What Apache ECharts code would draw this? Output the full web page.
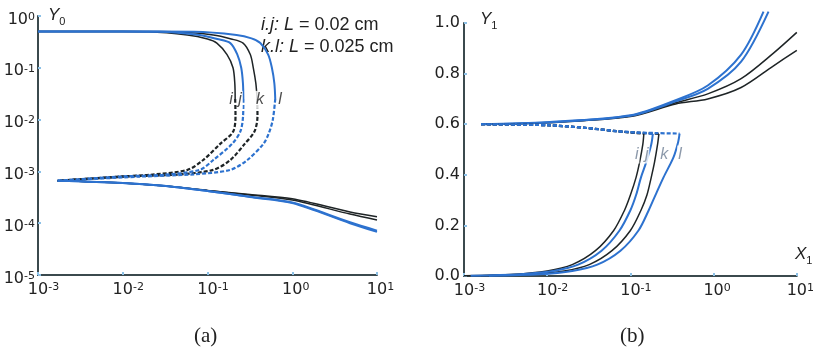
<!DOCTYPE html>
<html>
<head>
<meta charset="utf-8">
<script src="https://cdn.jsdelivr.net/npm/echarts@6/dist/echarts.min.js"></script>
<style>
html, body { margin: 0; padding: 0; background: #fff; }
#main { width: 817px; height: 353px; }
</style>
</head>
<body>
<div id="main"></div>
<script>
// panel (a): Y0 vs X, log-log
var aUpI = [[0.001,0.5],[0.01,0.5],[0.02,0.495],[0.058,0.43],[0.1,0.36],[0.129,0.3],[0.17,0.18],[0.2,0.1],[0.21,0.05],[0.212,0.025]];
var aUpJ = [[0.001,0.5],[0.01,0.5],[0.027,0.495],[0.081,0.43],[0.13,0.36],[0.186,0.3],[0.225,0.18],[0.25,0.1],[0.262,0.05],[0.265,0.025]];
var aUpK = [[0.001,0.5],[0.01,0.5],[0.04,0.495],[0.117,0.43],[0.19,0.36],[0.263,0.3],[0.32,0.18],[0.347,0.1],[0.372,0.05],[0.385,0.025]];
var aUpL = [[0.001,0.5],[0.01,0.5],[0.07,0.495],[0.22,0.43],[0.33,0.37],[0.42,0.3],[0.52,0.18],[0.575,0.1],[0.615,0.05],[0.63,0.025]];

var aDashI = [[0.212,0.025],[0.214,0.012],[0.2,0.0058],[0.141,0.0034],[0.089,0.00166],[0.058,0.00107],[0.021,0.00086],[0.01,0.0008],[0.0017,0.00066]];
var aDashJ = [[0.265,0.025],[0.263,0.012],[0.245,0.006],[0.195,0.0034],[0.117,0.00166],[0.081,0.00107],[0.03,0.00086],[0.01,0.0008],[0.0017,0.00066]];
var aDashK = [[0.385,0.025],[0.389,0.012],[0.36,0.006],[0.275,0.0034],[0.186,0.00166],[0.117,0.00107],[0.045,0.00087],[0.012,0.0008],[0.0017,0.00066]];
var aDashL = [[0.63,0.025],[0.59,0.01],[0.53,0.0055],[0.457,0.0034],[0.295,0.00166],[0.186,0.00107],[0.07,0.00088],[0.015,0.00079],[0.0017,0.00066]];

var aLowI = [[0.0017,0.00066],[0.01,0.0006],[0.03,0.00053],[0.1,0.00043],[0.316,0.00036],[1,0.000295],[4.8,0.000165],[10,0.000133]];
var aLowJ = [[0.0017,0.00066],[0.01,0.0006],[0.03,0.00053],[0.1,0.00042],[0.316,0.00032],[1,0.000245],[4.8,0.0001],[10,0.000068]];
var aLowK = [[0.0017,0.00066],[0.01,0.0006],[0.03,0.00053],[0.1,0.00043],[0.316,0.00035],[1,0.00028],[4.8,0.00015],[10,0.000115]];
var aLowL = [[0.0017,0.00066],[0.01,0.0006],[0.03,0.00053],[0.1,0.00042],[0.316,0.000325],[1,0.00025],[4.8,0.000104],[10,0.000072]];

// panel (b): Y1 vs X1, log x
var bUpI = [[0.0016,0.6],[0.01,0.607],[0.1,0.632],[0.35,0.685],[0.85,0.72],[2.14,0.78],[5.2,0.88],[10,0.963]];
var bUpJ = [[0.0016,0.6],[0.01,0.608],[0.1,0.635],[0.35,0.695],[0.85,0.753],[2.14,0.875],[3.98,1.045]];
var bUpK = [[0.0016,0.6],[0.01,0.606],[0.1,0.63],[0.35,0.68],[0.85,0.7],[2.14,0.745],[5.2,0.83],[10,0.892]];
var bUpL = [[0.0016,0.6],[0.01,0.607],[0.1,0.633],[0.35,0.69],[0.85,0.74],[2.14,0.847],[4.57,1.045]];

var bDashI = [[0.0016,0.6],[0.01,0.596],[0.03,0.585],[0.07,0.572],[0.145,0.562]];
var bDashJ = [[0.0016,0.6],[0.01,0.596],[0.03,0.585],[0.07,0.572],[0.186,0.562]];
var bDashK = [[0.0016,0.6],[0.01,0.596],[0.03,0.585],[0.07,0.572],[0.15,0.565],[0.22,0.562]];
var bDashL = [[0.0016,0.6],[0.01,0.596],[0.03,0.585],[0.07,0.572],[0.2,0.565],[0.39,0.563]];

var bLowI = [[0.145,0.562],[0.141,0.52],[0.129,0.45],[0.117,0.39],[0.1,0.32],[0.085,0.26],[0.063,0.18],[0.038,0.1],[0.02,0.045],[0.01,0.02],[0.004,0.007],[0.001,0.001]];
var bLowJ = [[0.186,0.562],[0.178,0.52],[0.155,0.45],[0.134,0.39],[0.117,0.32],[0.1,0.26],[0.074,0.18],[0.045,0.1],[0.0235,0.045],[0.0118,0.02],[0.0047,0.007],[0.0012,0.001]];
var bLowK = [[0.22,0.562],[0.212,0.52],[0.195,0.45],[0.178,0.39],[0.158,0.32],[0.134,0.26],[0.1,0.18],[0.06,0.1],[0.032,0.045],[0.016,0.02],[0.0063,0.007],[0.0016,0.001]];
var bLowL = [[0.39,0.563],[0.375,0.53],[0.33,0.47],[0.25,0.39],[0.2,0.32],[0.166,0.26],[0.125,0.18],[0.076,0.1],[0.04,0.045],[0.02,0.02],[0.008,0.007],[0.002,0.001]];

// curve labels [x, y, name]
var labelsA = [[0.189,0.024,'i'],[0.242,0.024,'j'],[0.416,0.024,'k'],[0.716,0.024,'l']];
var labelsB = [[0.119,0.48,'i'],[0.157,0.48,'j'],[0.255,0.48,'k'],[0.394,0.48,'l']];

var yTicksB = [0, 0.2, 0.4, 0.6, 0.8, 1.0];

var BLACK = '#1e2426';
var BLUE = '#2d72cf';
var AXIS = '#3b4a4e';
var FONT = 'Liberation Sans';
var TICKFONT = 'DejaVu Sans';

var chart = echarts.init(document.getElementById('main'));

function line(data, idx, color, dashed) {
  return {
    type: 'line',
    xAxisIndex: idx,
    yAxisIndex: idx,
    data: data,
    symbol: 'none',
    smooth: 0.3,
    clip: false,
    silent: true,
    lineStyle: {
      color: color,
      width: dashed ? 2.2 : (color === BLACK ? 1.5 : 2),
      type: dashed ? [4, 2] : 'solid'
    }
  };
}

function labelSeries(data, idx, color) {
  return {
    type: 'scatter',
    xAxisIndex: idx,
    yAxisIndex: idx,
    data: data,
    symbolSize: 1,
    silent: true,
    z: 10,
    itemStyle: { color: 'rgba(0,0,0,0)' },
    label: {
      show: true,
      position: 'inside',
      formatter: function (p) { return p.data[2]; },
      fontFamily: FONT,
      fontStyle: 'italic',
      fontSize: 16,
      color: color,
      backgroundColor: '#fff',
      padding: [1, 1]
    }
  };
}

// 10^n tick labels
var powRich = {
  b: { fontFamily: TICKFONT, fontSize: 16, color: '#222', lineHeight: 16, padding: [8, 0, 0, 0], verticalAlign: 'bottom' },
  s: { fontFamily: TICKFONT, fontSize: 11, color: '#222', lineHeight: 11, verticalAlign: 'top' },
  gn: { fontSize: 11, width: 11 },
  gp: { fontSize: 11, width: 7 }
};
function expOf(v) { return Math.round(Math.log(v) / Math.LN10); }
function powX(v) {
  var e = expOf(v);
  return '{' + (e < 0 ? 'gn' : 'gp') + '| }{b|10}{s|' + e + '}';
}
function powY(v) {
  return '{b|10}{s|' + expOf(v) + '}';
}

function xLog(idx) {
  return {
    type: 'log', gridIndex: idx, logBase: 10, min: 0.001, max: 10,
    axisLine: { show: true, lineStyle: { color: AXIS, width: 2 } },
    axisTick: { show: true, inside: true, length: 3, lineStyle: { color: '#8cc0e6', width: 2 } },
    minorTick: { show: false },
    splitLine: { show: false },
    axisLabel: { formatter: powX, rich: powRich, margin: 7 }
  };
}

var option = {
  animation: false,
  backgroundColor: '#fff',
  grid: [
    { left: 38, top: 16, width: 339, height: 259 },
    { left: 464, top: 23, width: 339, height: 253 }
  ],
  xAxis: [xLog(0), xLog(1)],
  yAxis: [
    {
      type: 'log', gridIndex: 0, logBase: 10, min: 0.00001, max: 1,
      axisLine: { show: true, lineStyle: { color: AXIS, width: 2 } },
      axisTick: { show: true, inside: true, length: 3, lineStyle: { color: '#8cc0e6', width: 2 } },
      splitLine: { show: false },
      axisLabel: { formatter: powY, rich: powRich, margin: 3, padding: [7, 0, 0, 0] }
    },
    {
      type: 'value', gridIndex: 1, min: yTicksB[0], max: yTicksB[yTicksB.length - 1], interval: 0.2,
      axisLine: { show: true, lineStyle: { color: AXIS, width: 2 } },
      axisTick: { show: true, inside: true, length: 3, lineStyle: { color: '#8cc0e6', width: 2 } },
      splitLine: { show: false },
      axisLabel: {
        fontFamily: TICKFONT, fontSize: 16, color: '#222', margin: 4,
        formatter: function (v) { return v.toFixed(1); }
      }
    }
  ],
  series: [
    line(aUpI, 0, BLACK), line(aUpK, 0, BLACK), line(aUpJ, 0, BLUE), line(aUpL, 0, BLUE),
    line(aDashI, 0, BLACK, true), line(aDashK, 0, BLACK, true), line(aDashJ, 0, BLUE, true), line(aDashL, 0, BLUE, true),
    line(aLowI, 0, BLACK), line(aLowK, 0, BLACK), line(aLowJ, 0, BLUE), line(aLowL, 0, BLUE),
    line(bUpI, 1, BLACK), line(bUpK, 1, BLACK), line(bUpJ, 1, BLUE), line(bUpL, 1, BLUE),
    line(bDashI, 1, BLACK, true), line(bDashK, 1, BLACK, true), line(bDashJ, 1, BLUE, true), line(bDashL, 1, BLUE, true),
    line(bLowI, 1, BLACK), line(bLowK, 1, BLACK), line(bLowJ, 1, BLUE), line(bLowL, 1, BLUE),
    labelSeries(labelsA, 0, '#222'),
    labelSeries(labelsB, 1, '#6f8095')
  ],
  graphic: [
    {
      type: 'text', left: 48, top: 7,
      style: {
        text: '{y|Y}{n|0}',
        rich: {
          y: { fontFamily: FONT, fontSize: 17, fontStyle: 'italic', fill: '#222', verticalAlign: 'top' },
          n: { fontFamily: FONT, fontSize: 11, fill: '#222', padding: [9, 0, 0, 0], verticalAlign: 'top' }
        }
      }
    },
    {
      type: 'text', left: 480, top: 11,
      style: {
        text: '{y|Y}{n|1}',
        rich: {
          y: { fontFamily: FONT, fontSize: 17, fontStyle: 'italic', fill: '#222', verticalAlign: 'top' },
          n: { fontFamily: FONT, fontSize: 11, fill: '#222', padding: [9, 0, 0, 0], verticalAlign: 'top' }
        }
      }
    },
    {
      type: 'text', left: 795, top: 246,
      style: {
        text: '{y|X}{n|1}',
        rich: {
          y: { fontFamily: FONT, fontSize: 17, fontStyle: 'italic', fill: '#222', verticalAlign: 'top' },
          n: { fontFamily: FONT, fontSize: 11, fill: '#222', padding: [9, 0, 0, 0], verticalAlign: 'top' }
        }
      }
    },
    {
      type: 'text', left: 261, top: 14,
      style: {
        text: '{i|i.j:} {i|L} = 0.02 cm\n{i|k.l:} {i|L} = 0.025 cm',
        fontFamily: FONT, fontSize: 18, fill: '#222', lineHeight: 22,
        rich: { i: { fontFamily: FONT, fontSize: 18, fontStyle: 'italic', fill: '#222' } }
      }
    },
    {
      type: 'text', left: 194, top: 326,
      style: { text: '(a)', fontFamily: 'Liberation Serif', fontSize: 21, fill: '#222' }
    },
    {
      type: 'text', left: 620, top: 326,
      style: { text: '(b)', fontFamily: 'Liberation Serif', fontSize: 21, fill: '#222' }
    }
  ]
};

chart.setOption(option);
</script>
</body>
</html>
